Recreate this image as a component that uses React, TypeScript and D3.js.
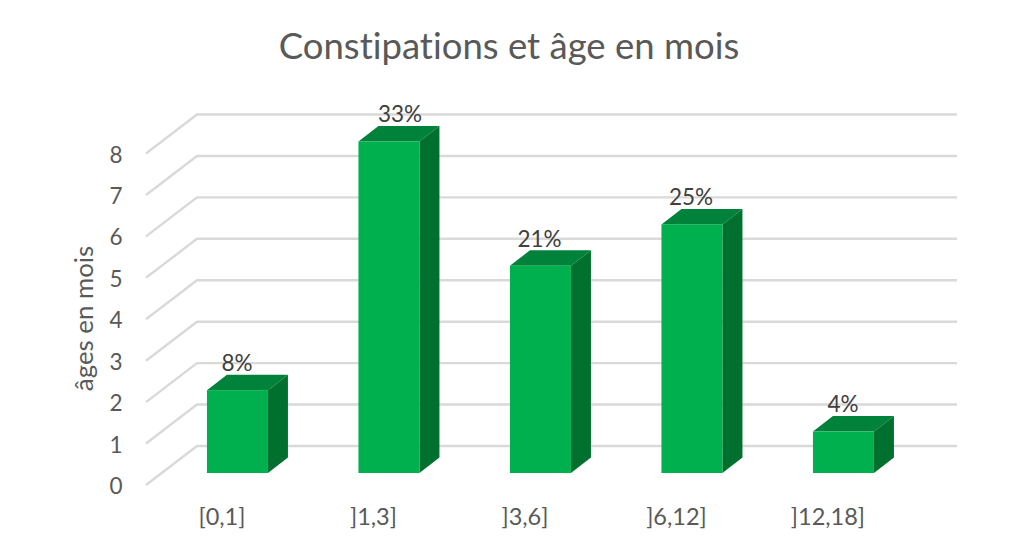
import React from "react";
import * as d3 from "d3";

const categories = ["[0,1]", "]1,3]", "]3,6]", "]6,12]", "]12,18]"];
const values = [2, 8, 5, 6, 1];
const percentLabels = ["8%", "33%", "21%", "25%", "4%"];
const yTicks = [0, 1, 2, 3, 4, 5, 6, 7, 8];
// The 33% label sits off-centre in the reference
const labelShift = [-0.5, 11, -1, -1, -0.5];

const FONT = "Lato, Carlito, sans-serif";
const TEXT = "#595959";
const DEPTH_X = 20;
const DEPTH_Y = 15.5;

export default function App() {
  const x = d3.scaleBand<string>().domain(categories).range([161.7, 919.2]).paddingInner(0);
  const y = d3.scaleLinear().domain([0, 8]).range([473, 141.5]);
  const barW = 61;
  const path = d3.line();
  const gridFront = (v: number) => y(v) + 12;
  const gridBack = (v: number) => y(v) - 27;
  const noLig: React.CSSProperties = { fontVariantLigatures: "none" };

  return (
    <svg width={1024} height={558} style={{ position: "absolute", left: 0, top: 0, background: "#fff" }}>
      <text x={509} y={58.5} textAnchor="middle" fontFamily={FONT} fontSize={36.5} fill={TEXT} style={noLig}>
        Constipations et âge en mois
      </text>
      <text
        transform="translate(93,318.5) rotate(-90)"
        textAnchor="middle"
        fontFamily={FONT}
        fontSize={25.8}
        fill={TEXT}
      >
        âges en mois
      </text>
      {yTicks.map((t) => (
        <g key={t}>
          <path
            d={path([[146, gridFront(t)], [197, gridBack(t)], [957, gridBack(t)]]) as string}
            fill="none"
            stroke="#d9d9d9"
            strokeWidth={2.4}
          />
          <text x={116} y={gridFront(t) + 9} textAnchor="middle" fontFamily={FONT} fontSize={22.5} fill={TEXT}>
            {t}
          </text>
        </g>
      ))}
      {categories.map((c, i) => {
        const cx = (x(c) as number) + x.bandwidth() / 2;
        const l = cx - barW / 2;
        const r = cx + barW / 2;
        const top = y(values[i]);
        const bottom = y(0);
        return (
          <g key={c}>
            <path
              d={(path([[l, top], [l + DEPTH_X, top - DEPTH_Y], [r + DEPTH_X, top - DEPTH_Y], [r, top]]) as string) + "Z"}
              fill="#00823b"
            />
            <path
              d={(path([[r, top], [r + DEPTH_X, top - DEPTH_Y], [r + DEPTH_X, bottom - DEPTH_Y], [r, bottom]]) as string) + "Z"}
              fill="#00702f"
            />
            <rect x={l} y={top} width={barW} height={bottom - top} fill="#00b04f" />
            <text x={cx + labelShift[i]} y={top - 19.3} textAnchor="middle" fontFamily={FONT} fontSize={22.5} fill="#404040">
              {percentLabels[i]}
            </text>
            <text x={cx - 15.5} y={525} textAnchor="middle" fontFamily={FONT} fontSize={23.5} fill={TEXT}>
              {c}
            </text>
          </g>
        );
      })}
    </svg>
  );
}
